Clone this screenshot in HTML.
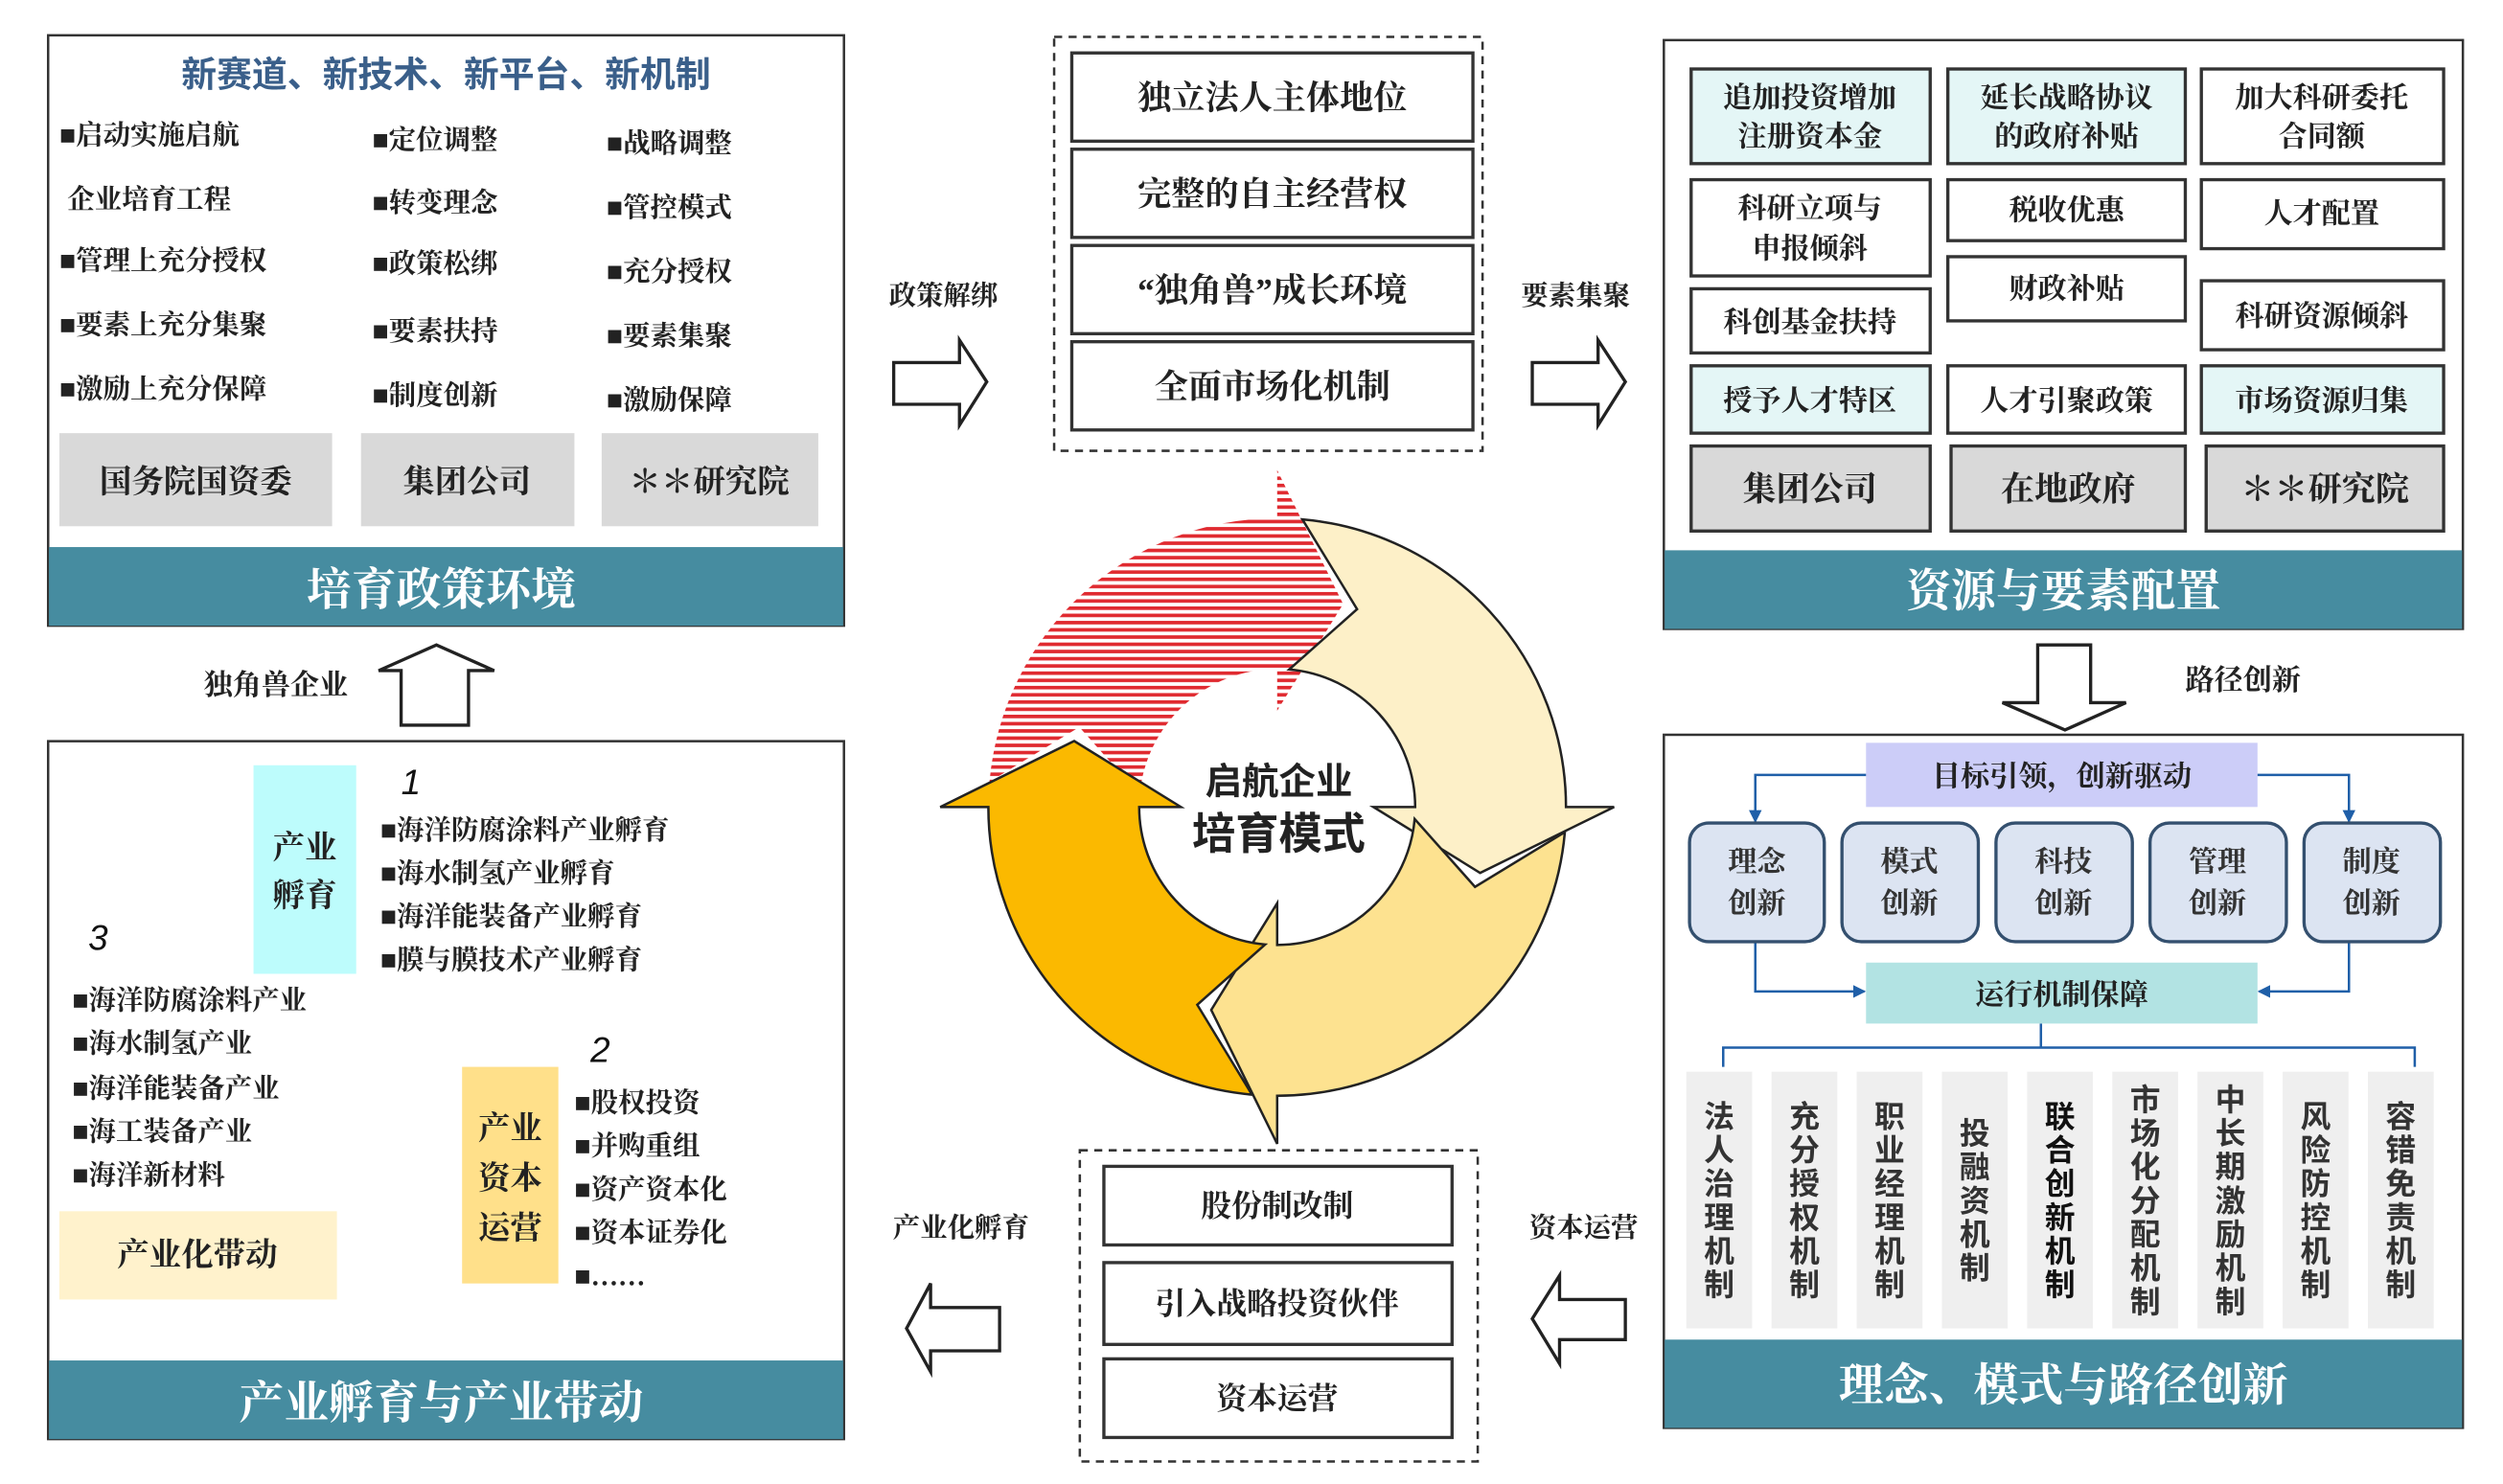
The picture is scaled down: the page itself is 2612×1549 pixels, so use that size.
<!DOCTYPE html>
<html><head><meta charset="utf-8">
<style>
html,body{margin:0;padding:0;background:#fff;}
svg{display:block;}
.k{font-family:"Liberation Serif","Noto Serif CJK SC",serif;font-weight:bold;fill:#222;}
.s{font-family:"Liberation Sans","Noto Sans CJK SC",sans-serif;}
.w{fill:#fff;}
</style></head><body>
<svg id="g" width="2612" height="1549" viewBox="0 0 1560 925" preserveAspectRatio="none" xmlns="http://www.w3.org/2000/svg">
<defs>
<pattern id="stripe" width="6" height="4.5" patternUnits="userSpaceOnUse">
<rect width="6" height="4.5" fill="#fff"/><rect width="6" height="2.2" fill="#e02a30"/>
</pattern>
<marker id="ah" markerWidth="8" markerHeight="8" refX="7" refY="4" orient="auto" markerUnits="userSpaceOnUse"><path d="M0,0 L8,4 L0,8 Z" fill="#1f5fa8"/></marker>
</defs>

<!-- TOP LEFT -->
<rect x="30" y="22" width="496" height="368" fill="#fff" stroke="#333" stroke-width="1.5"/>
<rect x="30.5" y="341" width="495" height="49" fill="#468ca0"/>
<text x="278" y="54" text-anchor="middle" class="s" font-size="22" font-weight="bold" fill="#3a5f8a">新赛道、新技术、新平台、新机制</text>
<g class="k" font-size="17">
<text x="37" y="90">■启动实施启航</text><text x="232" y="93">■定位调整</text><text x="378" y="95">■战略调整</text>
<text x="42" y="130">企业培育工程</text><text x="232" y="132">■转变理念</text><text x="378" y="135">■管控模式</text>
<text x="37" y="168">■管理上充分授权</text><text x="232" y="170">■政策松绑</text><text x="378" y="175">■充分授权</text>
<text x="37" y="208">■要素上充分集聚</text><text x="232" y="212">■要素扶持</text><text x="378" y="215">■要素集聚</text>
<text x="37" y="248">■激励上充分保障</text><text x="232" y="252">■制度创新</text><text x="378" y="255">■激励保障</text>
</g>
<rect x="37" y="270" width="170" height="58" fill="#d9d9d9"/>
<rect x="225" y="270" width="133" height="58" fill="#d9d9d9"/>
<rect x="375" y="270" width="135" height="58" fill="#d9d9d9"/>
<g class="k" font-size="20" text-anchor="middle">
<text x="122" y="307">国务院国资委</text><text x="291" y="307">集团公司</text><text x="442" y="307">＊＊研究院</text>
</g>
<text x="275" y="377" text-anchor="middle" class="k w" font-size="28" style="fill:#fff">培育政策环境</text>

<!-- TOP CENTER -->
<rect x="657" y="23" width="267" height="258" fill="none" stroke="#333" stroke-width="1.5" stroke-dasharray="5,4"/>
<g fill="#fff" stroke="#333" stroke-width="2">
<rect x="668" y="33" width="250" height="55"/><rect x="668" y="93" width="250" height="55"/>
<rect x="668" y="153" width="250" height="55"/><rect x="668" y="213" width="250" height="55"/>
</g>
<g class="k" font-size="21" text-anchor="middle">
<text x="793" y="68">独立法人主体地位</text><text x="793" y="128">完整的自主经营权</text>
<text x="793" y="188">“独角兽”成长环境</text><text x="793" y="248">全面市场化机制</text>
</g>
<text x="588" y="190" text-anchor="middle" class="k" font-size="17">政策解绑</text>
<text x="982" y="190" text-anchor="middle" class="k" font-size="17">要素集聚</text>
<g fill="#fff" stroke="#222" stroke-width="2">
<polygon points="557,226 598,226 598,212 615,238 598,265 598,252 557,252"/>
<polygon points="955,226 996,226 996,212 1013,238 996,265 996,252 955,252"/>
<polygon points="250,452 250,418 236,418 272,402 308,418 292,418 292,452"/>
<polygon points="1270,402 1303,402 1303,438 1325,438 1287,455 1248,438 1270,438"/>
<polygon points="623,815 580,815 580,800 565,828 580,855 580,842 623,842"/>
<polygon points="1013,810 972,810 972,795 955,822 972,850 972,835 1013,835"/>
</g>

<!-- TOP RIGHT -->
<rect x="1037" y="25" width="498" height="367" fill="#fff" stroke="#333" stroke-width="1.5"/>
<rect x="1037.5" y="343" width="497" height="49" fill="#468ca0"/>
<g stroke="#333" stroke-width="2">
<rect x="1054" y="43" width="149" height="59" fill="#e4f6f6"/>
<rect x="1214" y="43" width="148" height="59" fill="#e4f6f6"/>
<rect x="1372" y="43" width="151" height="59" fill="#fff"/>
<rect x="1054" y="112" width="149" height="60" fill="#fff"/>
<rect x="1214" y="112" width="148" height="38" fill="#fff"/>
<rect x="1372" y="112" width="151" height="43" fill="#fff"/>
<rect x="1054" y="180" width="149" height="40" fill="#fff"/>
<rect x="1214" y="160" width="148" height="40" fill="#fff"/>
<rect x="1372" y="175" width="151" height="43" fill="#fff"/>
<rect x="1054" y="228" width="149" height="42" fill="#e4f6f6"/>
<rect x="1214" y="228" width="148" height="42" fill="#fff"/>
<rect x="1372" y="228" width="151" height="42" fill="#e4f6f6"/>
<rect x="1054" y="278" width="149" height="53" fill="#d9d9d9"/>
<rect x="1216" y="278" width="146" height="53" fill="#d9d9d9"/>
<rect x="1375" y="278" width="148" height="53" fill="#d9d9d9"/>
</g>
<g class="k" font-size="18" text-anchor="middle">
<text x="1128" y="67">追加投资增加</text><text x="1128" y="91">注册资本金</text>
<text x="1288" y="67">延长战略协议</text><text x="1288" y="91">的政府补贴</text>
<text x="1447" y="67">加大科研委托</text><text x="1447" y="91">合同额</text>
<text x="1128" y="136">科研立项与</text><text x="1128" y="161">申报倾斜</text>
<text x="1288" y="137">税收优惠</text><text x="1447" y="139">人才配置</text>
<text x="1128" y="207">科创基金扶持</text><text x="1288" y="186">财政补贴</text><text x="1447" y="203">科研资源倾斜</text>
<text x="1128" y="256">授予人才特区</text><text x="1288" y="256">人才引聚政策</text><text x="1447" y="256">市场资源归集</text>
</g>
<g class="k" font-size="21" text-anchor="middle">
<text x="1128" y="312">集团公司</text><text x="1289" y="312">在地政府</text><text x="1449" y="312">＊＊研究院</text>
</g>
<text x="1286" y="378" text-anchor="middle" class="k" font-size="28" style="fill:#fff">资源与要素配置</text>
<text x="1398" y="430" text-anchor="middle" class="k" font-size="18">路径创新</text>
<text x="172" y="433" text-anchor="middle" class="k" font-size="18">独角兽企业</text>

<!-- BOTTOM RIGHT -->
<rect x="1037" y="458" width="498" height="432" fill="#fff" stroke="#333" stroke-width="1.5"/>
<rect x="1037.5" y="835" width="497" height="55" fill="#468ca0"/>
<rect x="1163" y="463" width="244" height="40" fill="#cccdf8"/>
<text x="1285" y="490" text-anchor="middle" class="k" font-size="18">目标引领，创新驱动</text>
<g fill="none" stroke="#1f5fa8" stroke-width="1.5">
<polyline points="1163,483 1094,483 1094,512" marker-end="url(#ah)"/>
<polyline points="1407,483 1464,483 1464,512" marker-end="url(#ah)"/>
<polyline points="1094,587 1094,618 1162,618" marker-end="url(#ah)"/>
<polyline points="1464,587 1464,618 1408,618" marker-end="url(#ah)"/>
<polyline points="1272,638 1272,653"/>
<polyline points="1074,665 1074,653 1505,653 1505,665"/>
</g>
<g fill="#dce4f2" stroke="#34506f" stroke-width="2">
<rect x="1053" y="513" width="84" height="74" rx="12"/>
<rect x="1148" y="513" width="85" height="74" rx="12"/>
<rect x="1244" y="513" width="85" height="74" rx="12"/>
<rect x="1340" y="513" width="85" height="74" rx="12"/>
<rect x="1436" y="513" width="85" height="74" rx="12"/>
</g>
<g class="k" font-size="18" text-anchor="middle" style="fill:#333">
<text x="1095" y="543">理念</text><text x="1095" y="569">创新</text>
<text x="1190" y="543">模式</text><text x="1190" y="569">创新</text>
<text x="1286" y="543">科技</text><text x="1286" y="569">创新</text>
<text x="1382" y="543">管理</text><text x="1382" y="569">创新</text>
<text x="1478" y="543">制度</text><text x="1478" y="569">创新</text>
</g>
<rect x="1163" y="600" width="244" height="38" fill="#b2e3e3"/>
<text x="1285" y="626" text-anchor="middle" class="k" font-size="18">运行机制保障</text>
<g id="cols"></g>
<text x="1286" y="873" text-anchor="middle" class="k" font-size="28" style="fill:#fff">理念、模式与路径创新</text>

<!-- BOTTOM LEFT -->
<rect x="30" y="462" width="496" height="435" fill="#fff" stroke="#333" stroke-width="1.5"/>
<rect x="30.5" y="848" width="495" height="49" fill="#468ca0"/>
<rect x="158" y="477" width="64" height="130" fill="#bdfcfc"/>
<text x="190" y="535" text-anchor="middle" class="k" font-size="20">产业</text>
<text x="190" y="565" text-anchor="middle" class="k" font-size="20">孵育</text>
<text x="250" y="495" class="s" font-size="22" font-style="italic" fill="#111">1</text>
<g class="k" font-size="17">
<text x="237" y="523">■海洋防腐涂料产业孵育</text><text x="237" y="550">■海水制氢产业孵育</text>
<text x="237" y="577">■海洋能装备产业孵育</text><text x="237" y="604">■膜与膜技术产业孵育</text>
</g>
<text x="55" y="592" class="s" font-size="22" font-style="italic" fill="#111">3</text>
<g class="k" font-size="17">
<text x="45" y="629">■海洋防腐涂料产业</text><text x="45" y="656">■海水制氢产业</text>
<text x="45" y="684">■海洋能装备产业</text><text x="45" y="711">■海工装备产业</text>
<text x="45" y="738">■海洋新材料</text>
</g>
<rect x="37" y="755" width="173" height="55" fill="#fff2cc"/>
<text x="123" y="789" text-anchor="middle" class="k" font-size="20">产业化带动</text>
<text x="368" y="662" class="s" font-size="22" font-style="italic" fill="#111">2</text>
<rect x="288" y="665" width="60" height="135" fill="#ffe08a"/>
<text x="318" y="710" text-anchor="middle" class="k" font-size="20">产业</text>
<text x="318" y="741" text-anchor="middle" class="k" font-size="20">资本</text>
<text x="318" y="772" text-anchor="middle" class="k" font-size="20">运营</text>
<g class="k" font-size="17">
<text x="358" y="693">■股权投资</text><text x="358" y="720">■并购重组</text>
<text x="358" y="747">■资产资本化</text><text x="358" y="774">■资本证券化</text>
<text x="358" y="801">■……</text>
</g>
<text x="275" y="884" text-anchor="middle" class="k" font-size="28" style="fill:#fff">产业孵育与产业带动</text>

<!-- BOTTOM CENTER -->
<rect x="673" y="717" width="248" height="194" fill="none" stroke="#333" stroke-width="1.5" stroke-dasharray="5,4"/>
<g fill="#fff" stroke="#333" stroke-width="2">
<rect x="688" y="727" width="217" height="49"/><rect x="688" y="787" width="217" height="51"/><rect x="688" y="847" width="217" height="49"/>
</g>
<g class="k" font-size="19" text-anchor="middle">
<text x="796" y="758">股份制改制</text><text x="796" y="819">引入战略投资伙伴</text><text x="796" y="878">资本运营</text>
</g>
<text x="599" y="771" text-anchor="middle" class="k" font-size="17">产业化孵育</text>
<text x="987" y="771" text-anchor="middle" class="k" font-size="17">资本运营</text>

<!-- CYCLE -->
<g id="cyc" stroke="#222" stroke-width="1.5"></g>
<text x="797" y="495" text-anchor="middle" class="s" font-size="23" font-weight="bold" fill="#222">启航企业</text>
<text x="797" y="529" text-anchor="middle" class="s" font-size="27" font-weight="bold" fill="#222">培育模式</text>
</svg>
<script>
(function(){
var NS="http://www.w3.org/2000/svg";
var cx=796,cy=503,ri=86,ro=180,rh1=60,rh2=210;
function P(a,r){a=a*Math.PI/180;return (cx+r*Math.cos(a)).toFixed(1)+","+(cy+r*Math.sin(a)).toFixed(1);}
function arrow(B,fill,stroke){
  var T=B-85;
  var d="M"+P(T,ro)+" A"+ro+","+ro+" 0 0 1 "+P(B,ro)+" L"+P(B,rh2)+" L"+P(B+18,(ri+ro)/2)+" L"+P(B,rh1)+" L"+P(B,ri)+" A"+ri+","+ri+" 0 0 0 "+P(T,ri)+" L"+P(T+17,(ri+ro)/2)+" Z";
  var p=document.createElementNS(NS,"path");p.setAttribute("d",d);p.setAttribute("fill",fill);
  if(stroke===false)p.setAttribute("stroke","none");
  document.getElementById("cyc").appendChild(p);
}
arrow(-90,"url(#stripe)",false);
arrow(0,"#fdf0c8");
arrow(90,"#fde290");
arrow(180,"#fbb900");
var cols=["法人治理机制","充分授权机制","职业经理机制","投融资机制","联合创新机制","市场化分配机制","中长期激励机制","风险防控机制","容错免责机制"];
var g=document.getElementById("cols");
for(var i=0;i<9;i++){
  var x=1051+i*53.1;
  var r=document.createElementNS(NS,"rect");
  r.setAttribute("x",x);r.setAttribute("y",668);r.setAttribute("width",41);r.setAttribute("height",160);r.setAttribute("fill","#efefef");
  g.appendChild(r);
  var s=cols[i],n=s.length,step=21,y0=748-(n-1)*step/2+7;
  for(var j=0;j<n;j++){
    var t=document.createElementNS(NS,"text");
    t.setAttribute("x",x+20.5);t.setAttribute("y",y0+j*step);t.setAttribute("text-anchor","middle");
    t.setAttribute("font-size","19");t.setAttribute("font-weight","bold");t.setAttribute("fill",i==4?"#111":"#333");
    t.setAttribute("font-family","'Liberation Sans','Noto Sans CJK SC',sans-serif");
    t.textContent=s[j];g.appendChild(t);
  }
}
})();
</script>
</body></html>
